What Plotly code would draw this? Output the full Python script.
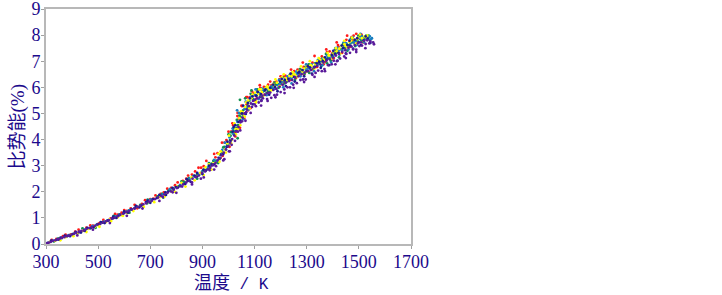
import plotly.graph_objects as go

red_t = [322,365,412,455,505,548,590,625,668,712,752,795,838,872,905,932,958,978,992,1004,1018,1026,1034,1044,1052,1060,1072,1084,1096,1108,1122,1138,1152,1168,1184,1202,1218,1236,1252,1270,1288,1306,1322,1340,1358,1372,1388,1404,1420,1436,1452,1466,1480,1496,1510,1524,1538,
         340,395,445,480,530,575,610,650,700,740,780,825,860,895,925,950,970,985,1000,1010,1025,1040,1048,1058,1070,1082,1098,1112,1125,1136,1150,1165,1180,1195,1210,1225,1243,1258,1275,1290,1305,1320,1336,1350,1365,1380,1395,1410,1425,1442,1458,1472,1488,1502,1516,1530,
         375,425,470,520,565,600,640,680,720,765,805,845,885,915,945,975,1000,1015,1035,1050,1068,1090,1120,1160,1200,1240,1285,1330,1375,1415,1455,1490,
         1075,1103,1130,1156,1175,1190,1212,1230,1248,1265,1282,1300,1316,1344,1362,1378,1398,1422,1445,1462,1478,1506]
red_e = [0.16,0.30,0.47,0.63,0.80,0.98,1.20,1.36,1.54,1.74,1.98,2.25,2.50,2.78,2.98,3.00,3.48,3.38,3.98,3.72,4.55,4.12,4.90,4.45,5.28,4.82,5.62,5.20,5.78,5.58,5.98,5.72,6.10,5.92,6.22,6.12,6.45,6.28,6.62,6.48,6.78,6.62,6.95,6.78,7.18,6.98,7.38,7.12,7.62,7.32,7.82,7.55,7.98,7.72,8.02,7.85,7.95,
         0.20,0.37,0.52,0.70,0.85,1.12,1.27,1.37,1.72,1.92,2.15,2.42,2.66,2.92,2.90,3.32,3.30,3.88,3.75,4.30,4.25,4.80,5.00,5.00,5.35,5.62,5.50,5.86,5.75,6.02,5.80,6.08,5.95,6.30,6.22,6.35,6.55,6.35,6.70,6.48,6.85,6.68,6.78,7.08,6.88,7.25,7.05,7.45,7.30,7.62,7.45,7.92,7.68,7.98,7.72,7.90,
         0.36,0.55,0.71,0.92,1.15,1.30,1.50,1.68,1.86,2.12,2.36,2.62,2.92,3.18,3.45,3.88,4.30,4.62,5.02,5.30,5.62,5.85,6.08,6.22,6.42,6.68,6.95,7.20,7.45,7.72,7.98,8.05,
         5.12,5.68,5.85,5.92,6.18,6.10,6.42,6.30,6.45,6.68,6.55,6.75,6.82,6.95,7.02,7.35,7.30,7.55,7.72,7.60,7.82,8.00]

yellow_t = [315,352,398,440,488,530,575,612,655,698,738,780,820,858,892,925,948,970,988,1002,1012,1022,1036,1048,1058,1068,1080,1092,1106,1118,1134,1148,1164,1180,1196,1212,1228,1246,1262,1278,1296,1312,1330,1346,1362,1380,1396,1412,1428,1444,1458,1474,1490,1504,1518,1532,
            335,375,420,462,500,545,588,630,672,715,760,802,842,880,912,940,962,980,996,1008,1028,1042,1054,1064,1076,1088,1102,1114,1128,1142,1156,1172,1186,1204,1220,1234,1250,1268,1284,1300,1318,1334,1352,1368,1384,1400,1416,1434,1450,1464,1482,1498,1512,1526,
            355,405,455,505,550,595,635,675,715,755,795,835,870,905,935,965,990,1010,1028,1045,1062,1080,1105,
            1125,1150,1175,1205,1225,1242,1255,1272,1290,1315,1340,1365,1388,1405,1425,1445,1470,1495,1522]
yellow_e = [0.08,0.20,0.36,0.50,0.66,0.84,1.02,1.18,1.42,1.60,1.80,2.02,2.34,2.55,2.72,3.05,3.10,3.55,3.62,4.15,3.98,4.62,4.40,5.08,4.88,5.42,5.22,5.72,5.48,5.92,5.68,6.05,5.88,6.30,6.05,6.50,6.30,6.58,6.40,6.80,6.58,7.00,6.72,7.12,6.95,7.32,7.10,7.50,7.28,7.78,7.52,7.90,7.68,8.02,7.78,7.98,
            0.12,0.26,0.41,0.58,0.72,0.94,1.10,1.31,1.48,1.72,1.92,2.20,2.42,2.60,2.94,3.08,3.45,3.50,3.85,3.85,4.40,4.82,5.05,5.25,5.50,5.58,5.80,5.74,5.82,5.96,5.92,6.12,6.18,6.28,6.34,6.44,6.50,6.62,6.60,6.78,6.82,6.88,7.05,7.06,7.22,7.28,7.38,7.58,7.58,7.74,7.84,7.90,7.88,7.92,
            0.14,0.30,0.46,0.66,0.88,1.08,1.26,1.42,1.60,1.82,2.00,2.20,2.44,2.64,2.85,3.15,3.50,3.85,4.20,4.55,4.88,5.20,5.42,
            5.92,6.00,6.05,6.38,6.28,6.42,6.48,6.62,6.72,6.85,7.00,7.12,7.22,7.38,7.48,7.65,7.78,7.85,7.95]

green_t = [330,378,422,470,515,560,602,645,688,728,770,808,848,882,915,942,965,984,998,1010,1024,1032,1042,1050,1064,1074,1088,1100,1114,1128,1144,1158,1176,1192,1208,1224,1240,1258,1274,1292,1308,1326,1342,1356,1374,1392,1408,1424,1440,1456,1470,1486,1500,1514,1528,1542,
           348,405,450,495,540,582,622,662,705,745,790,830,868,900,935,955,975,990,1006,1020,1036,1046,1056,1070,1080,1094,1044,1108,1122,1134,1152,1168,1182,1200,1216,1232,1248,1264,1282,1298,1316,1332,1348,1366,1382,1398,1414,1430,1448,1462,1478,1494,1508,1522,1536,
           440,490,560,620,690,750,820,880,925,960,1000,1035,1055,1085,1110,
           1120,1146,1170,1190,1215,1235,1255,1272,1295,1310,1330,1345,1362,1378,1402,1420,1438,1452,1468,1484,1498,1512,1538,
           830,850,880,905,925,950,968,980,995,1008,1018,1030,1042,1052]
green_e = [0.10,0.28,0.42,0.60,0.82,1.00,1.22,1.42,1.56,1.82,2.04,2.22,2.52,2.64,2.84,3.18,3.25,3.72,3.80,4.28,4.20,4.75,4.55,5.05,5.58,5.30,5.88,5.52,5.80,5.62,5.98,5.82,6.18,5.98,6.38,6.22,6.42,6.40,6.70,6.52,6.88,6.72,7.02,6.82,7.28,7.02,7.42,7.15,7.68,7.40,7.86,7.58,7.92,7.75,7.98,7.82,
           0.21,0.38,0.55,0.73,0.91,1.13,1.30,1.50,1.68,1.92,2.12,2.38,2.60,2.78,3.08,3.15,3.52,3.62,3.98,4.32,4.55,4.85,5.12,5.20,5.48,5.55,5.52,5.68,5.72,5.85,5.86,5.95,6.10,6.18,6.26,6.30,6.52,6.56,6.64,6.62,6.80,6.92,6.90,7.02,7.12,7.20,7.32,7.46,7.52,7.62,7.72,7.80,7.82,7.86,7.90,
           0.60,0.62,1.08,1.20,1.70,1.78,2.40,2.50,3.10,3.10,4.20,4.05,4.90,5.75,5.92,
           5.92,5.78,6.08,6.12,6.15,6.48,6.28,6.55,6.78,6.55,6.78,7.02,7.12,6.92,7.32,7.40,7.62,7.68,7.70,7.82,7.98,7.95,7.98,
           2.30,2.45,2.68,2.85,2.95,3.18,3.42,3.70,3.80,4.15,4.42,4.45,4.92,5.00]

blue_t = [308,345,388,432,478,522,568,610,650,692,735,775,815,852,888,920,945,968,986,1000,1016,1028,1040,1056,1066,1076,1090,1104,1116,1132,1146,1162,1178,1194,1210,1226,1242,1260,1276,1294,1310,1328,1344,1360,1378,1394,1410,1426,1442,1460,1476,1492,1506,1520,1534,1550,
          328,360,410,452,492,535,580,618,660,702,748,785,822,865,898,930,955,976,992,1004,1018,1034,1044,1062,1072,1086,1100,1118,1136,1154,1170,1190,1206,1222,1244,1266,1286,1302,1314,1338,1356,1372,1390,1406,1422,1438,1454,1470,1488,1502,1516,1530,1546,1033,
          1110,1128,1148,1172,1198,1218,1238,1262,1280,1298,1318,1340,1358,1384,1402,1418,1436,1450,1466,1482,1510,1542]
blue_e = [0.04,0.20,0.34,0.47,0.68,0.86,1.06,1.24,1.43,1.66,1.86,2.10,2.26,2.52,2.66,2.92,3.22,3.30,3.88,3.82,4.42,4.35,5.02,4.78,5.45,5.15,5.68,5.92,5.55,5.88,5.70,6.02,5.95,6.28,6.00,6.42,6.15,6.60,6.42,6.70,6.72,6.62,7.05,6.85,7.22,6.95,7.50,7.25,7.72,7.45,7.92,7.62,8.05,7.72,7.92,7.88,
          0.13,0.22,0.41,0.56,0.72,0.90,1.11,1.29,1.46,1.70,1.90,2.06,2.34,2.60,2.76,3.00,3.18,3.60,3.72,4.08,4.22,4.68,4.72,5.18,5.25,5.62,5.72,5.78,5.92,5.92,6.05,6.08,6.22,6.30,6.38,6.52,6.60,6.72,6.78,6.86,6.98,7.10,7.16,7.30,7.40,7.55,7.60,7.72,7.76,7.86,7.90,7.84,7.84,5.12,
          5.82,5.95,6.02,5.98,6.12,6.32,6.35,6.52,6.55,6.88,6.88,6.85,7.08,7.18,7.20,7.52,7.42,7.68,7.82,7.72,7.95,7.95]

navy_t = [304,340,382,428,472,518,556,598,640,684,725,768,806,845,878,912,938,962,980,994,1008,1020,1030,1046,1056,1066,1082,1094,1112,1126,1142,1156,1172,1188,1204,1220,1238,1254,1272,1290,1304,1320,1338,1354,1370,1386,1402,1418,1434,1450,1464,1478,1494,1508,1526,1544,
          356,402,448,498,538,578,628,666,710,758,798,834,870,904,936,972,996,1016,1026,1038,1052,1074,1092,1106,1124,1140,1160,1178,1198,1216,1230,1252,1268,1284,1300,1312,1330,1348,1362,1376,1396,1408,1422,1440,1456,1468,1484,1500,1518,1534,
          320,348,372,392,414,434,458,482,510,525,558,570,600,615,645,658,690,700,735,760,785,815,840,855,880,900,925,945]
navy_e = [0.03,0.16,0.31,0.46,0.62,0.82,0.98,1.18,1.37,1.60,1.76,2.00,2.16,2.42,2.58,2.80,3.02,3.30,3.45,3.72,3.95,4.48,4.32,4.72,5.30,4.98,5.58,5.35,5.82,5.50,5.92,5.72,6.10,5.85,6.32,6.05,6.52,6.22,6.60,6.42,6.80,6.52,6.92,6.75,7.15,6.85,7.40,7.02,7.60,7.30,7.78,7.48,7.88,7.62,7.95,7.70,
          0.24,0.38,0.50,0.76,0.90,1.08,1.33,1.47,1.72,1.98,2.18,2.30,2.62,2.84,3.05,3.42,3.92,4.30,4.55,4.68,5.00,5.40,5.65,5.68,5.74,5.88,5.98,6.02,6.22,6.28,6.32,6.40,6.56,6.66,6.62,6.76,6.78,6.98,7.00,7.06,7.24,7.28,7.32,7.50,7.62,7.60,7.82,7.72,7.80,7.86,
          0.13,0.17,0.32,0.30,0.46,0.44,0.62,0.64,0.84,0.80,1.05,1.00,1.25,1.20,1.46,1.40,1.66,1.58,1.88,1.88,2.15,2.22,2.48,2.38,2.72,2.68,3.00,3.05]

purple_t = [302,310,318,326,335,344,352,361,370,379,388,398,407,416,426,436,446,456,466,476,487,497,508,519,530,541,552,563,574,585,596,607,618,629,640,651,662,673,684,695,706,718,730,742,754,766,778,790,802,814,826,838,850,862,874,886,898,910,920,930,940,950,958,966,974,982,990,998,1006,1014,1022,1030,1038,1046,1054,1062,1070,1078,1086,1094,1102,1110,1120,1130,1140,1150,1160,1172,1184,1196,1208,1220,1232,1244,1256,1268,1280,1292,1304,1316,1328,1340,1352,1364,1376,1388,1400,1412,1424,1436,1448,1460,1472,1484,1496,1508,1520,1532,1544,1555,1036,1052,1068,1090,1116,1148,1186,1214,1248,1286,1334,1368,1416,1466,1512,1540,1012,1002,984,952,928,894,860,822,786,748,
            1100,1126,1164,1200,1236,1262,1296,1322,1344,1382,1404,1428,1452,1478,1502,1526,1132,1176,1226,1276,1358,1396,1444,1490,
            420,480,545,610,670,735,800,860,905,945,980,1005,1025,1045,1065,1085,1105,1125,1150,1180,1215,1250,1290,1330,1370,1410,1450,1490,1525,1558]
purple_e = [0.02,0.05,0.08,0.12,0.14,0.18,0.20,0.24,0.26,0.30,0.32,0.36,0.39,0.43,0.46,0.50,0.53,0.58,0.61,0.65,0.69,0.74,0.77,0.82,0.87,0.91,0.97,1.01,1.06,1.12,1.16,1.22,1.26,1.32,1.36,1.42,1.46,1.52,1.56,1.62,1.66,1.72,1.78,1.84,1.90,1.96,2.02,2.08,2.14,2.22,2.28,2.36,2.42,2.50,2.56,2.62,2.72,2.78,2.86,2.92,3.02,3.10,3.20,3.28,3.40,3.50,3.62,3.74,3.88,4.02,4.16,4.32,4.48,4.66,4.84,5.00,5.15,5.28,5.38,5.48,5.52,5.58,5.62,5.68,5.72,5.78,5.80,5.90,5.94,6.02,6.10,6.18,6.24,6.28,6.38,6.42,6.50,6.56,6.62,6.66,6.76,6.82,6.88,6.95,7.02,7.08,7.14,7.22,7.28,7.36,7.42,7.52,7.56,7.62,7.68,7.72,7.78,7.80,7.76,7.72,4.30,4.70,5.05,5.25,5.42,5.55,5.72,5.92,6.10,6.30,6.55,6.70,7.00,7.32,7.60,7.68,3.80,3.55,3.25,2.98,2.82,2.50,2.36,2.20,1.98,1.80,
            5.35,5.48,5.60,5.82,6.00,6.16,6.30,6.48,6.64,6.85,7.02,7.10,7.28,7.45,7.58,7.66,5.58,5.70,6.00,6.28,6.62,6.88,7.18,7.44,
            0.33,0.55,0.80,1.08,1.36,1.65,1.96,2.28,2.55,2.85,3.20,3.55,3.95,4.35,4.72,5.02,5.28,5.30,5.48,5.62,5.78,5.98,6.20,6.40,6.62,6.88,7.12,7.35,7.50,7.65]

series = [
    (red_t, red_e, "#ff1a1a"),
    (green_t, green_e, "#109050"),
    (blue_t, blue_e, "#1a7fc0"),
    (yellow_t, yellow_e, "#ffff00"),
    (navy_t, navy_e, "#1a1a90"),
    (purple_t, purple_e, "#5a1a9a"),
]
ink = "#1c0a8c"
xticks = [300, 500, 700, 900, 1100, 1300, 1500, 1700]
yticks = [0, 1, 2, 3, 4, 5, 6, 7, 8, 9]
serif = "Liberation Serif, Noto Sans CJK SC, serif"
mono = "Liberation Mono, Noto Sans CJK SC, monospace"

fig = go.Figure()
for t, e, c in series:
    fig.add_trace(go.Scatter(x=t, y=e, mode="markers", marker=dict(color=c, size=2.8, line=dict(width=0)), showlegend=False, cliponaxis=False))

common = dict(showgrid=False, zeroline=False, showline=True, linecolor="#b8b8b8", linewidth=2,
              ticks="outside", ticklen=3, tickcolor="#a0a0a0", tickwidth=1, automargin=False,
              ticklabeloverflow="allow", ticklabelstandoff=-3, tickfont=dict(family=serif, size=18, color=ink))
fig.update_xaxes(range=[300, 1700], tickvals=xticks, mirror=True, **common)
fig.update_yaxes(range=[0, 9], tickvals=yticks, mirror=True, **common)
fig.update_layout(width=722, height=295, paper_bgcolor="white", plot_bgcolor="white",
                  margin=dict(l=46, r=311, t=9, b=51),
                  annotations=[
                      dict(text='温度<span style="font-size:16px"> / K</span>', xref="paper", yref="paper", x=0.5, y=0, yshift=-39, xshift=3,
                           xanchor="center", yanchor="middle",
                           showarrow=False, font=dict(family=mono, size=18, color=ink)),
                      dict(text="比势能(%)", xref="paper", yref="paper", x=0, y=0.5, xshift=-29, yshift=-1,
                           xanchor="center", yanchor="middle",
                           textangle=-90, showarrow=False, font=dict(family=serif, size=19, color=ink)),
                  ])
fig.write_html("out.html", config=dict(displayModeBar=False), post_script="document.body.style.margin='0';")
